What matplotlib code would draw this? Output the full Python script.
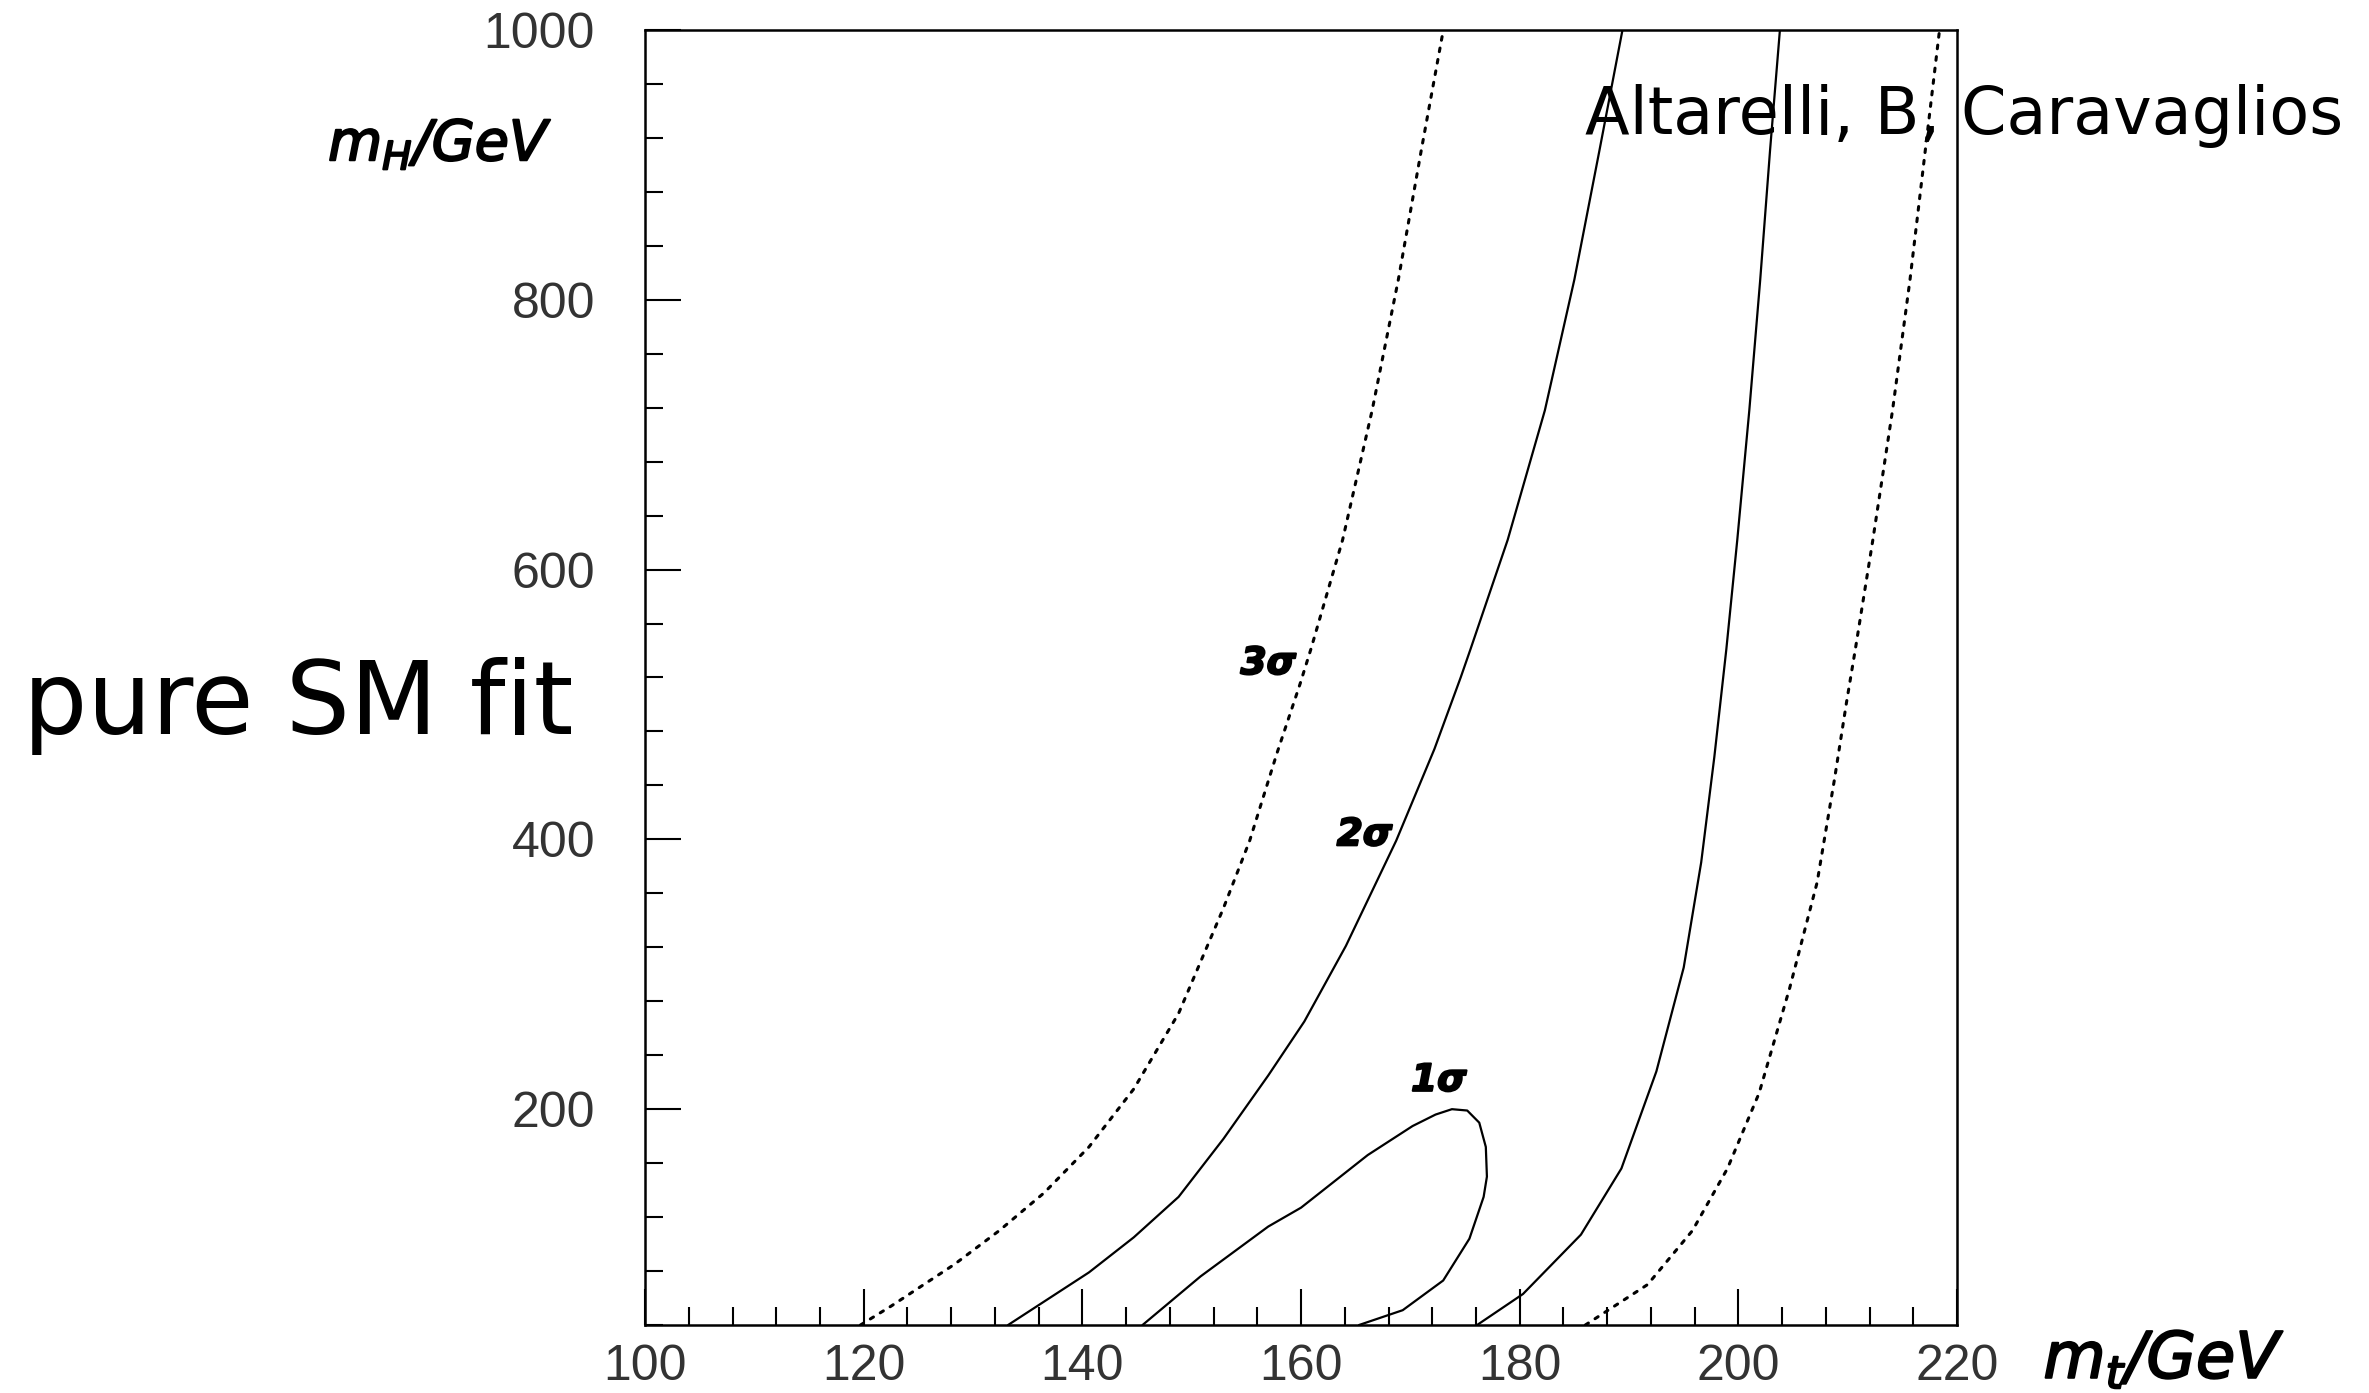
import matplotlib
matplotlib.use("Agg")
import matplotlib.pyplot as plt
import matplotlib.patheffects as pe
from matplotlib.ticker import MultipleLocator, FixedLocator

plt.rcParams['font.family'] = ['DejaVu Sans']

# ---- data ----
mt_3s_left = [119.7, 122.5, 128.3, 132.4, 136.5, 140.6, 144.7, 148.8, 152.9, 155.3,
              157.8, 159.9, 160.9, 163.8, 166.5, 168.9, 171.0, 172.9, 173.0]
mh_3s_left = [40, 54, 85, 110, 138, 172, 215, 271, 349, 399,
              464, 515, 541, 622, 718, 815, 911, 995, 1000]

mt_2s_left = [133.2, 140.6, 144.7, 148.8, 152.9, 157.0, 160.3, 164.1, 168.7, 172.2,
              174.6, 175.5, 178.9, 182.3, 185.0, 187.3, 189.4]
mh_2s_left = [40, 79, 105, 135, 178, 225, 265, 321, 399, 467,
              520, 541, 622, 718, 815, 911, 1000]

mt_1s = [145.5, 150.8, 157.0, 160.0, 166.1, 170.2, 172.3, 173.8, 175.2, 176.3, 176.9,
         177.0, 176.7, 175.4, 173.0, 169.3, 165.3]
mh_1s = [40, 76, 113, 127, 166, 187.5, 196, 200, 199, 190, 172,
         150, 135, 104, 73, 51, 40]

mt_2s_right = [176.1, 180.3, 185.6, 189.3, 192.5, 195.0, 196.6, 197.8, 198.9,
               199.9, 201.0, 202.0, 202.9, 203.8]
mh_2s_right = [40, 63, 107, 156, 228, 305, 383, 461, 541,
               622, 718, 815, 911, 1000]

mt_3s_right = [186.0, 191.7, 195.8, 199.0, 201.9, 204.7, 207.2, 208.8, 209.9, 210.7,
               212.3, 214.1, 215.7, 217.1, 218.4]
mh_3s_right = [40, 70, 110, 156, 212, 290, 368, 445, 502, 541,
               622, 718, 815, 911, 1000]

contour_labels = ["3σ", "2σ", "1σ"]
label_mt = [157.0, 165.8, 172.6]
label_mh = [530, 403, 221]

x_major = [100, 120, 140, 160, 180, 200, 220]
y_major = [200, 400, 600, 800, 1000]

# ---- figure ----
fig = plt.figure(figsize=(23.69, 13.93), dpi=100)
ax = fig.add_axes([0.2723, 0.0488, 0.5538, 0.9297])

ax.set_xlim(100, 220)
ax.set_ylim(40, 1000)

solid = dict(color='black', lw=1.6, solid_capstyle='round', solid_joinstyle='round')
dotted = dict(color='black', lw=2.2, linestyle=(0, (1.2, 2.6)), dash_capstyle='round')

ax.plot(mt_3s_left, mh_3s_left, **dotted)
ax.plot(mt_2s_left, mh_2s_left, **solid)
ax.plot(mt_1s, mh_1s, **solid)
ax.plot(mt_2s_right, mh_2s_right, **solid)
ax.plot(mt_3s_right, mh_3s_right, **dotted)

thick = [pe.withStroke(linewidth=1.5, foreground='black')]
for lab, x, y in zip(contour_labels, label_mt, label_mh):
    ax.text(x, y, lab, fontsize=27, fontweight='bold', fontstyle='italic',
            ha='center', va='center', color='black', path_effects=thick)

ax.xaxis.set_major_locator(FixedLocator(x_major))
ax.xaxis.set_minor_locator(MultipleLocator(4))
ax.yaxis.set_major_locator(FixedLocator(y_major))
ax.yaxis.set_minor_locator(MultipleLocator(40))

ax.tick_params(axis='both', which='major', direction='in', length=26, width=1.5,
               labelsize=36, labelcolor='#333333', top=False, right=False)
ax.tick_params(axis='both', which='minor', direction='in', length=13, width=1.5,
               top=False, right=False)
ax.tick_params(axis='x', which='major', pad=14)
ax.tick_params(axis='y', which='major', pad=36)
for lbl in ax.get_xticklabels() + ax.get_yticklabels():
    lbl.set_family(['Liberation Sans', 'DejaVu Sans'])

for sp in ax.spines.values():
    sp.set_linewidth(1.8)
    sp.set_color('black')

# axis titles (placed like the reference)
fig.text(440 / 2369, 1 - 145 / 1393, r'$m_H$/GeV', fontsize=40, fontstyle='italic',
         ha='center', va='center', path_effects=thick)
fig.text(2164 / 2369, 1 - 1360 / 1393, r'$m_t$/GeV', fontsize=46, fontstyle='italic',
         ha='center', va='center', path_effects=thick)

fig.text(1964 / 2369, 1 - 116 / 1393, 'Altarelli, B, Caravaglios', fontsize=47,
         ha='center', va='center')
fig.text(298 / 2369, 1 - 706 / 1393, 'pure SM fit', fontsize=73,
         ha='center', va='center')

fig.savefig('out.png', dpi=100)
